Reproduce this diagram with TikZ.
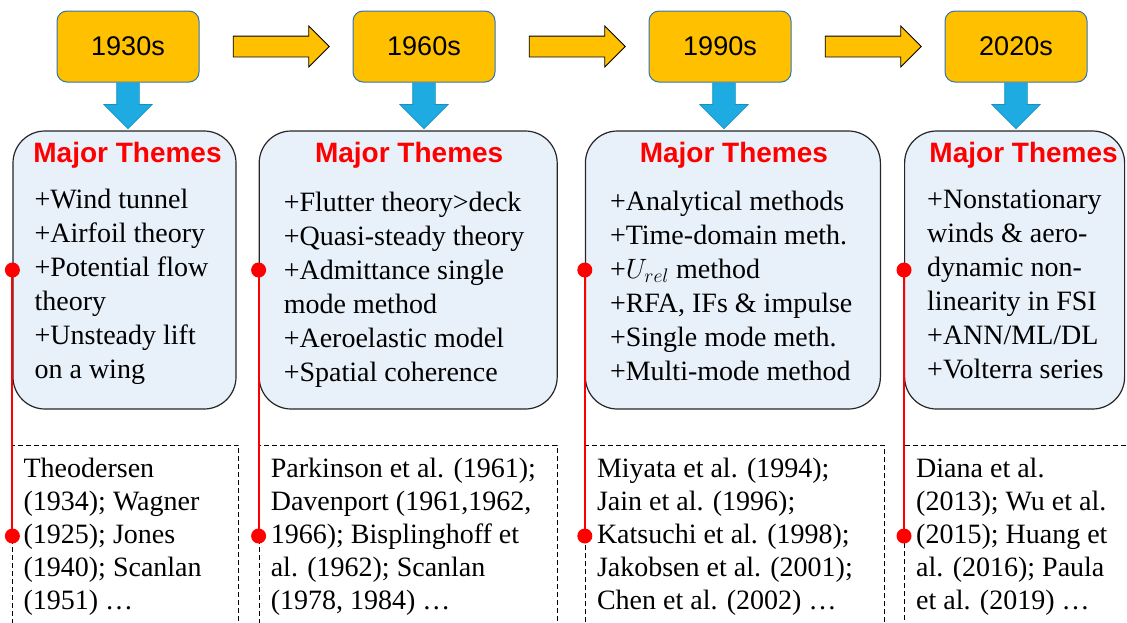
\documentclass[tikz,border=0pt]{standalone}
\usepackage{fix-cm}
\usepackage{fontspec}
\setmainfont{Liberation Serif}
\newfontfamily\headfont{Liberation Sans}
\usepackage{xcolor}
\usetikzlibrary{calc,shapes,arrows,positioning,arrows.meta}
\definecolor{yearorange}{RGB}{255,192,0}
\definecolor{yearblue}{RGB}{46,117,182}
\definecolor{downblue}{RGB}{29,171,226}
\definecolor{themefill}{RGB}{232,240,250}

\begin{document}
\begin{tikzpicture}
            [x=1pt,y=-1pt,
             year/.style ={draw=yearblue,fill=yearorange,rounded corners=10pt,line width=1pt,minimum width=142pt,minimum height=71pt,font=\headfont\fontsize{27}{32}\selectfont},
             nextarrow/.style ={single arrow,draw=black,fill=yearorange,line width=0.8pt,inner xsep=0pt,inner ysep=10pt,minimum width=0pt,minimum height=96pt,single arrow head extend=10pt},
             downarrow/.style ={single arrow,draw=downblue!85!black,fill=downblue,line width=0.6pt,rotate=-90,anchor=tail,inner xsep=0pt,inner ysep=11pt,minimum width=0pt,minimum height=46pt,single arrow head extend=13pt},
             theme/.style ={draw=black!85,fill=themefill,rounded corners=32pt,line width=1.2pt,minimum height=278pt},
             cite/.style ={draw,dash pattern=on 5pt off 3pt,line width=0.8pt,minimum height=182pt,anchor=north west},
             head/.style ={font=\headfont\bfseries\fontsize{28}{34}\selectfont,text=red,anchor=base,inner sep=0pt},
             body/.style ={font=\fontsize{28}{34}\selectfont,align=left,anchor=base west,inner sep=0pt},
             refs/.style ={font=\fontsize{28}{33}\selectfont,align=left,anchor=base west,inner sep=0pt},
             timeline/.style ={red,line width=2pt}]
            \useasboundingbox (0,0) rectangle (1127,622);
            \clip (0,0) rectangle (1127,622);
            % decades
            \node[year] (y1) at (128,46.5) {1930s};
            \node[year] (y2) [right=153pt of y1] {1960s};
            \node[year] (y3) [right=153pt of y2] {1990s};
            \node[year] (y4) [right=153pt of y3] {2020s};
            \node[nextarrow] (a12) at ($(y1.east)!0.5!(y2.west)$) {};
            \node[nextarrow] (a23) at ($(y2.east)!0.5!(y3.west)$) {};
            \node[nextarrow] (a34) at ($(y3.east)!0.5!(y4.west)$) {};
            % themes (base = last line)
            \node[theme,minimum width=223pt] (t1) at (124.5,270) {};
            \node[theme,minimum width=298pt] (t2) [right=22pt of t1] {};
            \node[theme,minimum width=295pt] (t3) [right=27pt of t2] {};
            \node[theme,minimum width=220pt] (t4) [right=23pt of t3] {};
            \node[downarrow] (d1) at (y1.south) {};
            \node[downarrow] (d2) at (y2.south) {};
            \node[downarrow] (d3) at ($(y3.south)+(4,0)$) {};
            \node[downarrow] (d4) at (y4.south) {};
            \node[head] (h1) at ($(t1.north)+(3,32)$) {Major Themes};
            \node[head] (h2) at ($(t2.north)+(1,32)$) {Major Themes};
            \node[head] (h3) at ($(t3.north)+(1,32)$) {Major Themes};
            \node[head] (h4) at ($(t4.north)+(9,32)$) {Major Themes};
            \node[body] (b1) at ($(t1.north west)+(22,248)$) {+Wind tunnel\\+Airfoil theory\\+Potential flow\\theory\\+Unsteady lift\\on a wing};
            \node[body] (b2) at ($(t2.north west)+(25,251)$) {+Flutter theory>deck\\+Quasi-steady theory\\+Admittance single\\mode method\\+Aeroelastic model\\+Spatial coherence};
            \node[body] (b3) at ($(t3.north west)+(25,250)$) {+Analytical methods\\+Time-domain meth.\\+$U_{rel}$ method\\+RFA, IFs \& impulse\\+Single mode meth.\\+Multi-mode method};
            \node[body] (b4) at ($(t4.north west)+(23,248)$) {+Nonstationary\\winds \& aero-\\dynamic non-\\linearity in FSI\\+ANN/ML/DL\\+Volterra series};
            % literature
            \node[cite,minimum width=226pt] (c1) at ($(t1.south west)+(0,35)$) {};
            \node[cite,minimum width=298pt] (c2) at ($(t2.south west)+(0,35)$) {};
            \node[cite,minimum width=299pt] (c3) at ($(t3.south west)+(0,35)$) {};
            \node[cite,minimum width=240pt] (c4) at ($(t4.south west)+(0,35)$) {};
            \node[refs] (r1) at ($(c1.north west)+(11,165)$) {Theodersen\\(1934); Wagner\\(1925); Jones\\(1940); Scanlan\\(1951) \ldots};
            \node[refs] (r2) at ($(c2.north west)+(12,165)$) {Parkinson et al. (1961);\\Davenport (1961,1962,\\1966); Bisplinghoff et\\al. (1962); Scanlan\\(1978, 1984) \ldots};
            \node[refs] (r3) at ($(c3.north west)+(12,165)$) {Miyata et al. (1994);\\Jain et al. (1996);\\Katsuchi et al. (1998);\\Jakobsen et al. (2001);\\Chen et al. (2002) \ldots};
            \node[refs] (r4) at ($(c4.north west)+(12,165)$) {Diana et al.\\(2013); Wu et al.\\(2015); Huang et\\al. (2016); Paula\\et al. (2019) \ldots};
            % red time line
            \foreach \i in {1,2,3,4}
              {\draw[timeline] (t\i.west) -- (c\i.west);
               \fill[red] (t\i.west) circle (7.5pt) (c\i.west) circle (7.5pt);}
        \end{tikzpicture}
\end{document}
